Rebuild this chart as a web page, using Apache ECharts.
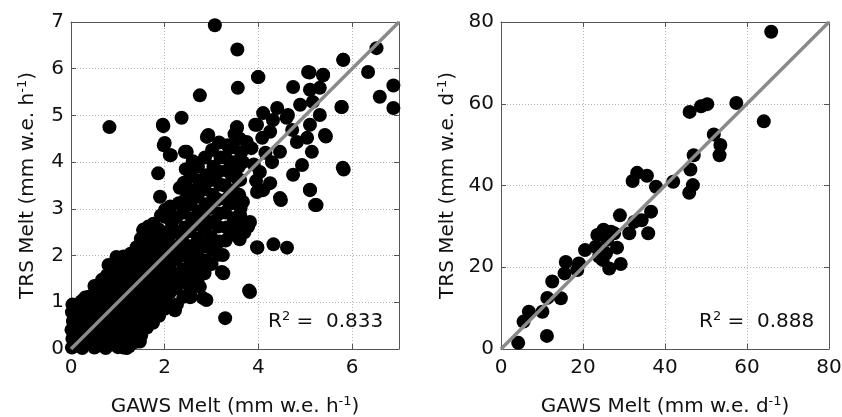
<!DOCTYPE html>
<html>
<head>
<meta charset="utf-8">
<script src="https://cdn.jsdelivr.net/npm/echarts@6/dist/echarts.min.js"></script>
<style>
html,body{margin:0;padding:0;background:#fff;}
#chart{width:842px;height:417px;}
</style>
</head>
<body>
<div id="chart"></div>
<script>
// ---- Left panel: hourly melt (mm w.e. h-1) ----
var hourlyXTicks = [0, 2, 4, 6];
var hourlyYTicks = [0, 1, 2, 3, 4, 5, 6, 7];
var hourlyOutliers = [
  [3.07,6.93],[3.55,6.41],[3.56,5.59],[2.75,5.43],[4.0,5.82],[0.82,4.75],[2.36,4.95],
  [1.97,4.77],[1.98,4.36],[6.52,6.44],[5.81,6.19],[6.34,5.93],[5.09,5.92],[5.38,5.86],
  [6.88,5.64],[6.59,5.40],[6.88,5.16],[5.77,5.18],[5.82,3.84],[5.44,4.55],[5.1,3.41],
  [5.24,3.08],[4.48,3.19],[4.61,2.17],[4.32,2.24],[3.98,2.17],[3.80,1.25],[3.29,0.66],
  [3.24,2.01],[3.25,1.62],[2.89,1.05],[2.56,1.12],[2.22,0.83],[0.80,1.80],[0.97,1.97],
  [1.86,3.76],[2.75,3.51],[2.43,4.22],[2.13,4.15],[2.93,4.58],[3.78,2.62],[1.96,4.8],
  [2.0,4.41],[2.11,4.15],[2.9,4.54],[3.54,4.73],[3.97,4.8],[2.47,4.22],[1.9,3.26],
  [2.0,2.83],[3.54,2.44],[3.97,2.18],[3.22,1.65],[3.82,1.22],[2.82,1.09],[2.54,1.11],
  [2.75,1.33],[1.54,2.54],[1.65,2.62],[1.19,0.02],[1.47,0.16]
];
var hourlyDenseLow = [
  [0.02,0.03],[0.03,0.22],[0.01,0.41],[0.04,0.6],[0.02,0.79],[0.03,0.95],
  [0.12,0.1],[0.14,0.33],[0.11,0.52],[0.13,0.74],[0.15,0.9],
  [0.24,0.02],[0.26,0.21],[0.23,0.43],[0.27,0.62],[0.25,0.83],[0.22,1.02],[0.3,1.1],
  [0.37,0.12],[0.4,0.31],[0.36,0.53],[0.39,0.71],[0.41,0.92],[0.38,1.12],
  [0.5,0.03],[0.52,0.22],[0.48,0.41],[0.51,0.63],[0.53,0.81],[0.49,1.02],[0.52,1.2],[0.5,1.35],
  [0.62,0.11],[0.64,0.29],[0.6,0.52],[0.63,0.7],[0.61,0.91],[0.65,1.1],[0.62,1.31],[0.66,1.48],
  [0.74,0.02],[0.76,0.21],[0.73,0.42],[0.77,0.6],[0.75,0.82],[0.72,1.01],[0.78,1.2],[0.74,1.41],[0.77,1.58],
  [0.87,0.1],[0.89,0.31],[0.86,0.5],[0.9,0.72],[0.88,0.9],[0.85,1.1],[0.91,1.31],[0.87,1.5],[0.9,1.7],
  [1.0,0.04],[1.02,0.26],[0.99,0.44],[1.01,0.66],[1.03,0.85],[0.98,1.06],[1.02,1.24],[1.0,1.46],[1.04,1.66],[0.99,1.88]
];
var hourlyDenseMid = [
  [1.12,0.03],[1.13,0.21],[1.1,0.4],[1.14,0.61],[1.11,0.79],[1.15,1.0],[1.12,1.21],[1.1,1.4],[1.13,1.61],[1.16,1.8],[1.12,1.98],
  [1.24,0.06],[1.26,0.3],[1.23,0.49],[1.27,0.7],[1.25,0.91],[1.22,1.1],[1.26,1.3],[1.24,1.52],[1.28,1.7],[1.25,1.9],[1.27,2.04],
  [1.37,0.15],[1.39,0.36],[1.36,0.55],[1.4,0.74],[1.38,0.96],[1.35,1.15],[1.41,1.34],[1.37,1.56],[1.39,1.75],[1.36,1.94],[1.4,2.18],
  [1.5,0.3],[1.52,0.49],[1.48,0.7],[1.51,0.9],[1.53,1.1],[1.49,1.31],[1.52,1.5],[1.5,1.7],[1.47,1.91],[1.51,2.1],[1.49,2.36],[1.55,2.56],
  [1.62,0.46],[1.64,0.65],[1.61,0.86],[1.63,1.05],[1.6,1.26],[1.65,1.45],[1.62,1.66],[1.64,1.85],[1.61,2.06],[1.63,2.24],[1.66,2.5],
  [1.75,0.56],[1.77,0.76],[1.74,0.95],[1.76,1.16],[1.73,1.35],[1.78,1.56],[1.75,1.74],[1.72,1.96],[1.77,2.15],[1.74,2.4],[1.76,2.68],
  [1.88,0.71],[1.9,0.9],[1.86,1.1],[1.89,1.31],[1.87,1.5],[1.91,1.7],[1.88,1.9],[1.85,2.1],[1.9,2.3],[1.87,2.56],[1.92,2.86],
  [2.0,0.86],[2.02,1.05],[1.99,1.26],[2.01,1.45],[2.03,1.66],[1.98,1.85],[2.02,2.06],[2.0,2.26],[2.04,2.5],[2.01,2.98]
];
var hourlyDenseHigh = [
  [2.12,0.9],[2.1,1.2],[2.14,1.5],[2.11,1.8],[2.13,2.1],[2.09,2.42],[2.15,2.7],[2.12,3.05],
  [2.26,0.95],[2.24,1.3],[2.27,1.6],[2.25,1.92],[2.23,2.2],[2.28,2.5],[2.25,2.82],[2.3,3.12],[2.32,3.45],
  [2.4,1.12],[2.42,1.42],[2.39,1.7],[2.41,2.02],[2.38,2.3],[2.43,2.6],[2.4,2.92],[2.44,3.2],[2.41,3.56],[2.45,3.85],
  [2.55,1.3],[2.57,1.62],[2.54,1.9],[2.56,2.2],[2.53,2.52],[2.58,2.8],[2.55,3.1],[2.52,3.42],[2.57,3.7],[2.6,4.02],
  [2.7,1.46],[2.72,1.76],[2.69,2.05],[2.71,2.36],[2.68,2.66],[2.73,2.95],[2.7,3.26],[2.74,3.6],[2.71,3.9],
  [2.85,1.62],[2.87,1.9],[2.84,2.2],[2.86,2.52],[2.83,2.8],[2.88,3.1],[2.85,3.42],[2.89,3.72],[2.86,4.1],
  [3.0,1.82],[3.02,2.12],[2.99,2.4],[3.01,2.72],[2.98,3.02],[3.03,3.3],[3.0,3.62],[3.04,3.9],[3.01,4.26],
  [3.15,2.02],[3.17,2.3],[3.14,2.62],[3.16,2.9],[3.13,3.2],[3.18,3.52],[3.15,3.8],[3.19,4.1],[3.16,4.42],
  [3.3,2.32],[3.32,2.6],[3.29,2.92],[3.31,3.2],[3.28,3.5],[3.33,3.82],[3.3,4.1],[3.34,4.36],
  [3.45,2.52],[3.47,2.8],[3.44,3.12],[3.46,3.4],[3.43,3.72],[3.48,4.0],[3.45,4.32],[3.49,4.6],
  [3.6,2.72],[3.62,3.02],[3.59,3.3],[3.61,3.62],[3.58,3.9],[3.63,4.2],[3.6,4.5],
  [3.45,2.45],[3.6,2.35],[3.7,2.5],[3.85,4.3],[3.9,3.95],[3.95,3.6],[4.1,3.4],[4.15,4.2]
];
var hourlyUpper = [
  [3.99,5.82],[5.06,5.93],[5.38,5.87],[5.81,6.19],[5.78,5.18],[4.74,5.61],[5.1,5.55],
  [5.31,5.59],[4.4,5.16],[4.1,5.05],[4.63,5.01],[4.89,5.23],[5.16,5.29],[5.31,5.01],
  [5.42,4.58],[5.1,4.8],[5.04,4.52],[5.14,4.22],[4.82,4.43],[4.72,4.69],[4.6,4.95],
  [4.31,4.9],[3.54,4.75],[3.93,4.8],[4.25,4.65],[4.08,4.52],[3.75,4.43],[4.46,4.22],
  [4.29,4.0],[4.93,3.94],[4.74,3.73],[5.8,3.88],[5.1,3.4],[5.21,3.08],[4.25,3.55],
  [4.46,3.23],[4.03,3.79],[3.97,3.36],[3.67,4.0],[3.54,3.66],[3.67,3.15],[3.61,2.87],
  [3.82,2.72],[3.39,3.3]
];
var hourlyOneToOne = [[0, 0], [7, 7]];
var hourlyR2 = '0.833';

// ---- Right panel: daily melt (mm w.e. d-1) ----
var dailyXTicks = [0, 20, 40, 60, 80];
var dailyYTicks = [0, 20, 40, 60, 80];
var dailyPoints = [
  [65.9,77.6],[64.1,55.7],[57.4,60.2],[50.3,59.9],[48.8,59.4],[46.0,58.0],[51.9,52.5],
  [53.5,49.9],[53.3,47.4],[47.0,47.4],[46.2,43.9],[46.8,40.1],[45.9,38.2],[42.0,40.9],
  [37.8,39.7],[36.6,33.6],[35.9,28.3],[35.6,42.4],[33.2,43.1],[32.1,41.1],[34.3,31.5],
  [31.3,28.3],[32.5,31.1],[29.0,32.7],[29.2,20.8],[28.3,24.8],[26.4,19.7],[26.8,28.7],
  [25.0,29.2],[23.5,27.9],[23.1,25.0],[23.9,22.6],[24.8,21.8],[25.6,23.4],[20.5,24.2],
  [19.0,20.9],[18.6,19.3],[15.8,21.3],[15.5,18.5],[12.5,16.5],[14.6,12.4],[11.3,12.5],
  [10.1,9.1],[11.2,3.2],[6.8,9.1],[5.5,6.7],[4.2,1.5],[25.9,26.7],[27.6,28.3]
];
var dailyOneToOne = [[0, 0], [80, 80]];
var dailyR2 = '0.888';

var FONT = 'DejaVu Sans, Liberation Sans, sans-serif';
var axisColor = '#555';
var supRich = {
  a: { fontFamily: FONT, fontSize: 20, color: '#111', lineHeight: 24 },
  s: { fontFamily: FONT, fontSize: 13, color: '#111', verticalAlign: 'top', lineHeight: 24, padding: [0,0,10,0] }
};

function mainX(grid, min, max, interval, unit, showMax) {
  return {
    type: 'value', gridIndex: grid, position: 'bottom', min: min, max: max, interval: interval, z: 0,
    name: '{a|GAWS Melt (mm w.e. ' + unit + '}{s|-1}{a|)}',
    nameLocation: 'middle', nameGap: 46, nameMoveOverlap: false,
    nameTextStyle: { rich: supRich },
    axisLine: { show: true, onZero: false, lineStyle: { color: axisColor, width: 1 } },
    axisTick: { show: true, inside: true, length: 5, lineStyle: { color: axisColor } },
    axisLabel: { fontFamily: FONT, fontSize: 20, color: '#111', margin: 9, showMaxLabel: showMax },
    splitLine: { show: true, lineStyle: { color: '#b4b4b4', type: [1, 2], width: 1 } }
  };
}
function mainY(grid, min, max, interval, unit, gap) {
  return {
    type: 'value', gridIndex: grid, position: 'left', min: min, max: max, interval: interval, z: 0,
    name: '{a|TRS Melt (mm w.e. ' + unit + '}{s|-1}{a|)}',
    nameLocation: 'middle', nameGap: gap, nameRotate: 90, nameMoveOverlap: false,
    nameTextStyle: { rich: supRich },
    axisLine: { show: true, onZero: false, lineStyle: { color: axisColor, width: 1 } },
    axisTick: { show: true, inside: true, length: 5, lineStyle: { color: axisColor } },
    axisLabel: { fontFamily: FONT, fontSize: 20, color: '#111', margin: 7 },
    splitLine: { show: true, lineStyle: { color: '#b4b4b4', type: [1, 2], width: 1 } }
  };
}
function sideAxis(kind, grid, min, max, interval) {
  return {
    type: 'value', gridIndex: grid, position: kind === 'x' ? 'top' : 'right',
    min: min, max: max, interval: interval, z: 0,
    axisLine: { show: true, onZero: false, lineStyle: { color: axisColor, width: 1 } },
    axisTick: { show: true, inside: true, length: 5, lineStyle: { color: axisColor } },
    axisLabel: { show: false }, splitLine: { show: false }
  };
}

function scat(xi, yi, data) {
  return { type: 'scatter', xAxisIndex: xi, yAxisIndex: yi, data: data,
    symbol: 'circle', symbolSize: 14,
    itemStyle: { color: '#000', opacity: 1, borderWidth: 0 },
    emphasis: { disabled: true }, silent: true, zlevel: 1, z: 8 };
}
function oneToOne(xi, yi, data) {
  return { type: 'line', xAxisIndex: xi, yAxisIndex: yi, data: data, symbol: 'none', zlevel: 1, z: 9,
    lineStyle: { color: '#8a8a8a', width: 3.5 }, silent: true };
}
function r2Text(x, y, value) {
  return { type: 'text', left: x, top: y, zlevel: 1, z: 10,
    style: { text: '{a|R}{s|2}{a| =  ' + value + '}',
      rich: {
        a: { fontFamily: FONT, fontSize: 20, fill: '#111', lineHeight: 24 },
        s: { fontFamily: FONT, fontSize: 13, fill: '#111', verticalAlign: 'top', lineHeight: 24, padding: [0,0,10,0] }
      } } };
}

var chart = echarts.init(document.getElementById('chart'), null, { renderer: 'canvas' });
chart.setOption({
  animation: false,
  backgroundColor: '#fff',
  grid: [
    { left: 71, top: 22, width: 328, height: 327, outerBoundsMode: 'none', containLabel: false },
    { left: 501, top: 22, width: 328, height: 327, outerBoundsMode: 'none', containLabel: false }
  ],
  xAxis: [
    mainX(0, hourlyXTicks[0], 7, hourlyXTicks[1] - hourlyXTicks[0], 'h', false),
    mainX(1, dailyXTicks[0], dailyXTicks[dailyXTicks.length - 1], dailyXTicks[1] - dailyXTicks[0], 'd', true),
    sideAxis('x', 0, 0, 7, 2),
    sideAxis('x', 1, 0, 80, 20)
  ],
  yAxis: [
    mainY(0, hourlyYTicks[0], hourlyYTicks[hourlyYTicks.length - 1], hourlyYTicks[1] - hourlyYTicks[0], 'h', 31),
    mainY(1, dailyYTicks[0], dailyYTicks[dailyYTicks.length - 1], dailyYTicks[1] - dailyYTicks[0], 'd', 41),
    sideAxis('y', 0, 0, 7, 1),
    sideAxis('y', 1, 0, 80, 20)
  ],
  series: [
    scat(0, 0, hourlyDenseLow),
    scat(0, 0, hourlyDenseMid),
    scat(0, 0, hourlyDenseHigh),
    scat(0, 0, hourlyUpper),
    scat(0, 0, hourlyOutliers),
    oneToOne(0, 0, hourlyOneToOne),
    scat(1, 1, dailyPoints),
    oneToOne(1, 1, dailyOneToOne)
  ],
  graphic: [
    r2Text(268, 310, hourlyR2),
    r2Text(699, 310, dailyR2)
  ]
});
</script>
</body>
</html>
